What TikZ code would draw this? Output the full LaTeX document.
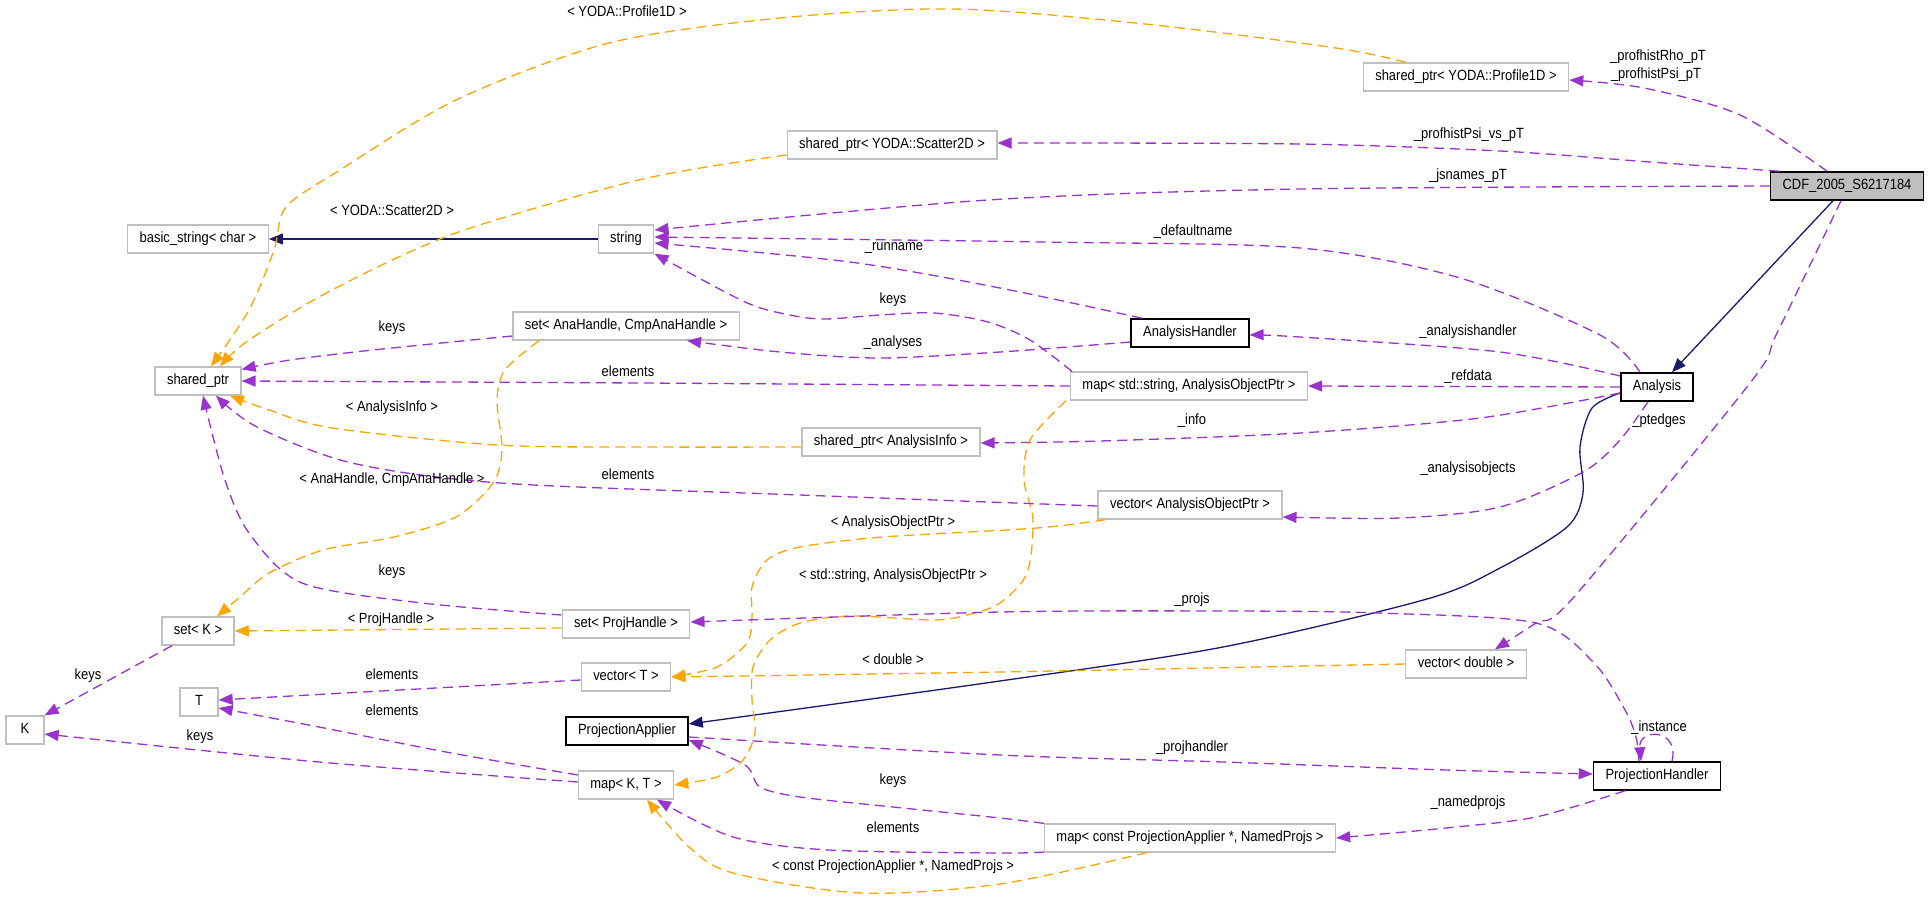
\documentclass[tikz,border=0pt]{standalone}
\usepackage{fontspec}
\setmainfont{Liberation Sans}[FakeStretch=0.875]
\usetikzlibrary{arrows.meta}
\definecolor{memcol}{HTML}{9A32CD}
\definecolor{tplcol}{HTML}{FFA500}
\definecolor{inhcol}{HTML}{191970}
\definecolor{boxgray}{HTML}{BFBFBF}
\tikzset{
  cls/.style={rectangle, draw=boxgray, line width=1.3pt, fill=white, minimum height=28pt, minimum width=38pt,
    inner xsep=12pt, inner ysep=0pt, text height=10.5pt, text depth=3pt, font=\fontsize{14.8}{17}\selectfont},
  doccls/.style={cls, draw=black, line width=1.6pt},
  curcls/.style={doccls, fill=boxgray},
  lab/.style={inner sep=0pt, text height=10.5pt, text depth=3pt, font=\fontsize{14.8}{17}\selectfont},
  tipstyle/.style={-{Triangle[length=14pt,width=11pt]}},
  memb/.style={draw=memcol, line width=1.3pt, dash pattern=on 10pt off 6pt, tipstyle},
  tmpl/.style={draw=tplcol, line width=1.3pt, dash pattern=on 10pt off 6pt, tipstyle},
  inh/.style={draw=inhcol, line width=1.3pt, tipstyle},
  sm/.style={smooth, tension=0.5}
}
\begin{document}
\begin{tikzpicture}[x=1pt, y=-1pt]
\fill[white] (0,0) rectangle (1928,899);
\useasboundingbox (0,0) rectangle (1928,899);

% nodes
\node[curcls] (cdf) at (1847,186) {CDF\_2005\_S6217184};
\node[cls] (prof) at (1466,77) {shared\_ptr< YODA::Profile1D >};
\node[cls] (scat) at (892,145) {shared\_ptr< YODA::Scatter2D >};
\node[cls] (basic) at (198,239) {basic\_string< char >};
\node[cls] (str) at (626,239) {string};
\node[cls] (sptr) at (198,381) {shared\_ptr};
\node[cls] (setana) at (626,326) {set< AnaHandle, CmpAnaHandle >};
\node[doccls] (ahand) at (1190,333) {AnalysisHandler};
\node[cls] (mapso) at (1189,386) {map< std::string, AnalysisObjectPtr >};
\node[doccls] (ana) at (1657,387) {Analysis};
\node[cls] (info) at (891,442) {shared\_ptr< AnalysisInfo >};
\node[cls] (vecao) at (1190,505) {vector< AnalysisObjectPtr >};
\node[cls] (setK) at (198,631) {set< K >};
\node[cls] (K) at (25,730) {K};
\node[cls] (T) at (199,702) {T};
\node[cls] (setph) at (626,624) {set< ProjHandle >};
\node[cls] (vecT) at (626,677) {vector< T >};
\node[doccls] (papp) at (627,731) {ProjectionApplier};
\node[cls] (mapKT) at (626,785) {map< K, T >};
\node[cls] (vecd) at (1466,664) {vector< double >};
\node[doccls] (phand) at (1657,776) {ProjectionHandler};
\node[cls] (mapcp) at (1190,838) {map< const ProjectionApplier *, NamedProjs >};

% inheritance
\draw[inh] ([xshift=-14pt]cdf.south) -- ([xshift=15pt]ana.north);
\draw[inh] (str.west) -- (basic.east);
\draw[inh] plot[sm] coordinates {([yshift=-6pt]ana.west) (1592,408) (1580,447) (1583,493) (1567,527) (1500,568) (1427,599) (1223,647) (1000,681) ([yshift=7pt]papp.east)};

% members of CDF
\draw[memb] plot[sm] coordinates {([xshift=-20pt]cdf.north) (1740,115) (1644,88) ([yshift=-3pt]prof.east)};
\draw[memb] plot[sm] coordinates {([xshift=-68pt]cdf.north) (1650,162) (1500,151) (1300,144) ([yshift=2pt]scat.east)};
\draw[memb] plot[sm] coordinates {(cdf.west) (1300,189) (988,200) ([yshift=9pt]str.east)};
\draw[memb] plot[sm] coordinates {([xshift=-6pt]cdf.south) (1777,333) (1750,383) (1573,598) (1536,623) ([xshift=29pt]vecd.north)};

% members of Analysis
\draw[memb] plot[sm] coordinates {([xshift=-17pt]ana.north) (1600,335) (1460,278) (1300,248) (1042,242) ([yshift=2pt]str.east)};
\draw[memb] plot[sm] coordinates {([yshift=11pt]ana.west) (1500,352) (1300,337) ([yshift=-2pt]ahand.east)};
\draw[memb] (ana.west) -- (mapso.east);
\draw[memb] plot[sm] coordinates {([yshift=-6pt]ana.west) (1480,418) (1300,433) (1100,441) ([yshift=-1pt]info.east)};
\draw[memb] plot[sm] coordinates {([xshift=-9pt]ana.south) (1620,440) (1583,472) (1500,507) (1400,518) ([yshift=-12pt]vecao.east)};

% AnalysisHandler
\draw[memb] plot[sm] coordinates {([xshift=-48pt]ahand.north) (1000,288) (850,262) ([yshift=-4pt]str.east)};
\draw[memb] plot[sm] coordinates {([yshift=-9pt]ahand.west) (1000,352) (879,358) (780,352) ([xshift=61pt]setana.south)};

% map<string,...>
\draw[memb] plot[sm] coordinates {([xshift=-117pt]mapso.north) (1030,340) (988,322) (934,313) (880,315) (825,319) (790,315) (745,302) (str.south east)};
\draw[memb] plot[sm] coordinates {(mapso.west) (640,383) (sptr.east)};
\draw[tmpl] plot[sm] coordinates {([xshift=-123pt]mapso.south) (1030,440) (1024,480) (1033,520) (1027,573) (1000,603) (967,615) (933,620) (850,616) (800,623) (770,640) (753,667) (752,700) (755,733) (743,760) (717,777) (mapKT.east)};

% shared_ptr family
\draw[tmpl] plot[sm] coordinates {([xshift=-60pt]prof.north) (1336,48) (1145,24) (953,9) (780,18) (609,43) (456,100) (340,170) (286,207) (274,250) (249,310) ([xshift=13pt]sptr.north)};
\draw[tmpl] plot[sm] coordinates {([yshift=-10pt]scat.west) (643,179) (456,233) (332,290) (249,340) ([xshift=22pt]sptr.north)};
\draw[memb] plot[sm] coordinates {([yshift=-10pt]setana.west) (373,350) (290,360) ([yshift=-3pt]sptr.north east)};
\draw[tmpl] plot[sm] coordinates {([yshift=-5pt]info.west) (650,447) (497,445) (332,428) (269,410) ([xshift=32pt]sptr.south)};
\draw[memb] plot[sm] coordinates {([yshift=-1pt]vecao.west) (800,495) (500,483) (352,463) (257,427) ([xshift=18pt]sptr.south)};
\draw[memb] plot[sm] coordinates {([yshift=9pt]setph.west) (422,603) (302,583) (249,533) (224,477) ([xshift=5pt]sptr.south)};

% set<K>
\draw[tmpl] plot[sm] coordinates {([xshift=-87pt]setana.south) (505,370) (497,400) (502,450) (493,483) (456,517) (394,537) (323,550) (269,573) (240,597) ([xshift=19pt]setK.north)};
\draw[tmpl] ([yshift=-4pt]setph.west) -- (setK.east);
\draw[memb] ([xshift=-26pt]setK.south) -- (K.north east);

% vector<T>, map<K,T>
\draw[memb] ([yshift=-3pt]vecT.west) -- ([yshift=2pt]T.east);
\draw[memb] plot[sm] coordinates {([yshift=10pt]mapKT.west) (446,752) (319,727) ([yshift=-6pt]T.east)};
\draw[memb] plot[sm] coordinates {([yshift=3pt]mapKT.west) (319,762) ([yshift=-4pt]K.east)};
\draw[tmpl] plot[sm] coordinates {([xshift=8pt]vecao.south west) (1037,528) (883,537) (800,547) (767,560) (752,587) (752,617) (747,643) (717,667) (vecT.east)};
\draw[tmpl] plot[sm] coordinates {(vecd.west) (1000,672) (vecT.east)};

% ProjectionHandler
\draw[memb] plot[sm] coordinates {([xshift=-18pt]phand.north) (1636,737) (1625,710) (1594,663) (1536,623) (1379,613) (1223,611) (1000,612) ([yshift=2pt]setph.east)};
\draw[memb] ([xshift=15pt]phand.north) .. controls (1680,728) and (1638,728) .. ([xshift=-16pt]phand.north);
\draw[memb] plot[sm] coordinates {([yshift=-6pt]papp.east) (1000,755) (1223,762) (1446,770) ([yshift=2pt]phand.west)};
\draw[memb] plot[sm] coordinates {([xshift=-32pt]phand.south) (1536,817) (1446,828) (mapcp.east)};

% map<const ProjectionApplier*,...>
\draw[memb] plot[sm] coordinates {(mapcp.north west) (1000,818) (893,807) (800,797) (760,787) (745,765) ([yshift=-9pt]papp.east)};
\draw[memb] plot[sm] coordinates {([yshift=-14pt]mapcp.west) (1000,853) (829,850) (733,837) ([xshift=31pt]mapKT.south)};
\draw[tmpl] plot[sm] coordinates {([xshift=-43pt]mapcp.south) (1000,884) (861,893) (733,873) (689,847) ([xshift=21pt]mapKT.south)};

% labels
\node[lab] (l1) at (1658,57) {\_profhistRho\_pT};
\node[lab] (l2) at (1656,75) {\_profhistPsi\_pT};
\node[lab] (l3) at (1469,135) {\_profhistPsi\_vs\_pT};
\node[lab] (l4) at (1468,176) {\_jsnames\_pT};
\node[lab] (l5) at (1193,232) {\_defaultname};
\node[lab] (l6) at (894,247) {\_runname};
\node[lab] (l7) at (893,300) {keys};
\node[lab] (l8) at (893,343) {\_analyses};
\node[lab] (l9) at (1468,332) {\_analysishandler};
\node[lab] (l10) at (1468,377) {\_refdata};
\node[lab] (l11) at (1192,421) {\_info};
\node[lab] (l12) at (1659,421) {\_ptedges};
\node[lab] (l13) at (1468,469) {\_analysisobjects};
\node[lab] (l14) at (628,373) {elements};
\node[lab] (l15) at (628,476) {elements};
\node[lab] (l16) at (893,523) {< AnalysisObjectPtr >};
\node[lab] (l17) at (893,576) {< std::string, AnalysisObjectPtr >};
\node[lab] (l18) at (627,13) {< YODA::Profile1D >};
\node[lab] (l19) at (392,212) {< YODA::Scatter2D >};
\node[lab] (l20) at (392,328) {keys};
\node[lab] (l21) at (392,408) {< AnalysisInfo >};
\node[lab] (l22) at (392,480) {< AnaHandle, CmpAnaHandle >};
\node[lab] (l23) at (392,572) {keys};
\node[lab] (l24) at (391,620) {< ProjHandle >};
\node[lab] (l25) at (88,676) {keys};
\node[lab] (l26) at (392,676) {elements};
\node[lab] (l27) at (392,712) {elements};
\node[lab] (l28) at (200,737) {keys};
\node[lab] (l29) at (893,661) {< double >};
\node[lab] (l30) at (1192,600) {\_projs};
\node[lab] (l31) at (1659,728) {\_instance};
\node[lab] (l32) at (1192,748) {\_projhandler};
\node[lab] (l33) at (893,781) {keys};
\node[lab] (l34) at (1468,803) {\_namedprojs};
\node[lab] (l35) at (893,829) {elements};
\node[lab] (l36) at (893,867) {< const ProjectionApplier *, NamedProjs >};
\end{tikzpicture}
\end{document}
